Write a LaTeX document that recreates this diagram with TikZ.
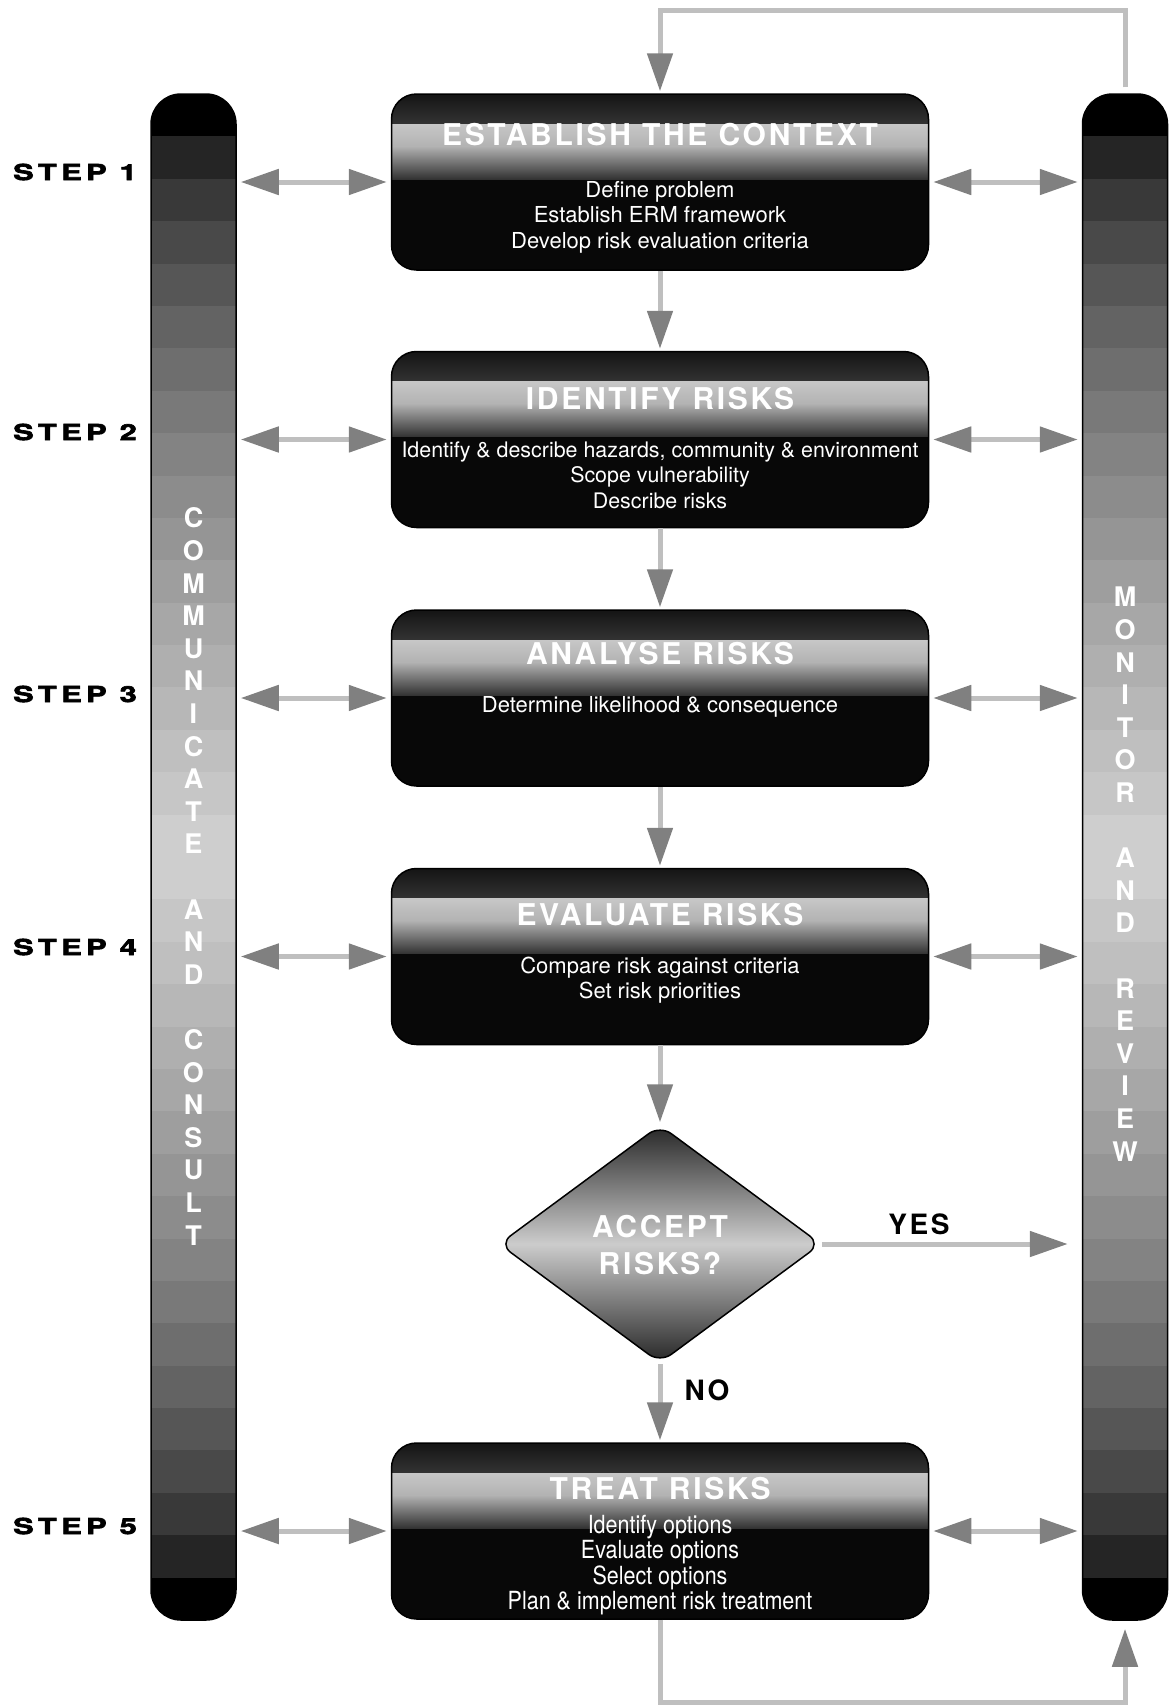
\documentclass[tikz,border=0pt]{standalone}
\usepackage{fontspec}
\setmainfont{TeX Gyre Heros}
\newfontfamily\ttlfont{TeX Gyre Heros}[LetterSpace=9]
\newfontfamily\stepfont{TeX Gyre Heros}[LetterSpace=20,FakeStretch=1.4,FakeBold=3]
\newfontfamily\narrowfont{TeX Gyre Heros}[FakeStretch=0.86]
\usetikzlibrary{calc,arrows.meta,shapes.geometric}

\begin{document}
\begin{tikzpicture}[x=1pt,y=-1pt,
                    bar/.style={draw=black,line width=1.5pt,fill=black,rounded corners=30pt,minimum width=85pt,minimum height=1526pt,inner sep=0pt,
                      path picture={\foreach \i in {1,...,34}{\pgfmathsetmacro\lv{0.82*(1-abs(\i-17.5)/17.5)^0.6}\definecolor{band}{gray}{\lv}
                        \fill[band,sharp corners] ([yshift={-42.39*\i}]path picture bounding box.north west) rectangle ([yshift={-42.39*(\i+1)-0.3}]path picture bounding box.north east);}}},
                    box/.style={draw=black,line width=1.5pt,fill=black!97,rounded corners=25pt,minimum width=537pt,minimum height=176pt,inner sep=0pt,
                      path picture={\shade[sharp corners,top color=black!92,bottom color=black!22] (path picture bounding box.north west) rectangle ([yshift=-30pt]path picture bounding box.north east);
                        \shade[sharp corners,top color=black!22,bottom color=black!30] ([yshift=-30pt]path picture bounding box.north west) rectangle ([yshift=-52pt]path picture bounding box.north east);
                        \shade[sharp corners,top color=black!30,bottom color=black!80] ([yshift=-52pt]path picture bounding box.north west) rectangle ([yshift=-85pt]path picture bounding box.north east);}},
                    ttl/.style={text=white,font=\ttlfont\bfseries\fontsize{30}{37}\selectfont,align=center,inner sep=0pt},
                    body/.style={text=white,font=\fontsize{22}{25.6}\selectfont,align=center,inner sep=0pt},
                    steplbl/.style={anchor=west,font=\stepfont\bfseries\fontsize{22}{25}\selectfont,inner sep=0pt},
                    barlet/.style={text=white,font=\bfseries\fontsize{27}{30}\selectfont,inner sep=0pt},
                    yn/.style={font=\ttlfont\bfseries\fontsize{28}{30}\selectfont,inner sep=0pt},
                    conn/.style={draw=black!25,line width=5pt,shorten >=2pt,-{Triangle[length=38pt,width=25pt,color=black!50]}},
                    dconn/.style={conn,shorten <=4pt,shorten >=4pt,{Triangle[length=38pt,width=25pt,color=black!50]}-{Triangle[length=38pt,width=25pt,color=black!50]}}]
                      \useasboundingbox (0,0) rectangle (1168,1706);
                      \node[bar] (cc) at (193.5,857) {};
                      \node[bar] (mr) at (1125,857) {};
                      \foreach \ch [count=\k] in {C,O,M,M,U,N,I,C,A,T,E,{},A,N,D,{},C,O,N,S,U,L,T} \node[barlet] (cl\k) at (193.5,518+32.6*\k-32.6) {\ch};
                      \foreach \ch [count=\k] in {M,O,N,I,T,O,R,{},A,N,D,{},R,E,V,I,E,W} \node[barlet] (ml\k) at (1125,597+32.6*\k-32.6) {\ch};
                      \node[box] (ctx) at (660,182) {};
                      \node[box] (idr) at (660,439.5) {};
                      \node[box] (anr) at (660,698) {};
                      \node[box] (evr) at (660,956.5) {};
                      \node[box] (trt) at (660,1531) {};
                      \node[diamond,draw=black,line width=1.5pt,rounded corners=14pt,minimum width=322pt,minimum height=238pt,inner sep=0pt,top color=black!85,bottom color=black!85,middle color=black!20] (acc) at (660,1244) {};
                      \node[ttl] (ctxt) at (660,135) {ESTABLISH THE CONTEXT};
                      \node[body] (ctxb) at (660,217) {Define problem\\Establish ERM framework\\Develop risk evaluation criteria};
                      \node[ttl] (idrt) at (660,399) {IDENTIFY RISKS};
                      \node[body,font=\fontsize{21.4}{25.6}\selectfont] (idrb) at (660,475) {Identify \& describe hazards, community \& environment\\Scope vulnerability\\Describe risks};
                      \node[ttl] (anrt) at (660,654) {ANALYSE RISKS};
                      \node[body] (anrb) at (660,707) {Determine likelihood \& consequence};
                      \node[ttl] (evrt) at (660,915) {EVALUATE RISKS};
                      \node[body] (evrb) at (660,980) {Compare risk against criteria\\Set risk priorities};
                      \node[ttl] (acct) at (660,1245) {ACCEPT\\RISKS?};
                      \node[ttl] (trtt) at (660,1489) {TREAT RISKS};
                      \node[body,font=\narrowfont\fontsize{25}{25.6}\selectfont] (trtb) at (660,1565) {Identify options\\Evaluate options\\Select options\\Plan \& implement risk treatment};
                      \node[steplbl] (s1) at (13,172) {STEP 1};
                      \node[steplbl] (s2) at (13,432) {STEP 2};
                      \node[steplbl] (s3) at (13,694) {STEP 3};
                      \node[steplbl] (s4) at (13,947) {STEP 4};
                      \node[steplbl] (s5) at (13,1526) {STEP 5};
                      \node[yn] (yes) at (919,1224) {YES};
                      \node[yn] (no) at (707,1390) {NO};
                      \foreach \bx in {ctx,idr,anr,evr,trt} {\draw[dconn] (cc.east |- \bx) -- (\bx.west); \draw[dconn] (\bx.east) -- (mr.west |- \bx);}
                      \draw[conn] (ctx) -- (idr);
                      \draw[conn] (idr) -- (anr);
                      \draw[conn] (anr) -- (evr);
                      \draw[conn] (evr) -- (acc);
                      \draw[conn] (acc) -- (trt);
                      \draw[conn] (acc.east) -- ([xshift=-12pt]mr.west |- acc.east);
                      \coordinate (tr) at (1125,10);
                      \coordinate (br) at (1125,1702);
                      \draw[conn] ([yshift=6pt]mr.north) -- (tr) -| (ctx.north);
                      \draw[conn] (trt.south) |- (br) -- ([yshift=-6pt]mr.south);
                  \end{tikzpicture}
\end{document}
